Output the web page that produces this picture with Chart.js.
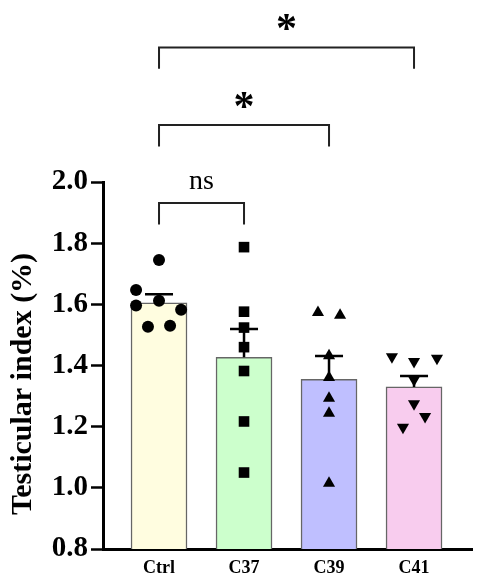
<!DOCTYPE html>
<html><head><meta charset="utf-8">
<script src="https://cdn.jsdelivr.net/npm/chart.js@4"></script>
<style>html,body{margin:0;padding:0;background:#fff;} canvas{display:block;}</style>
</head><body>
<canvas id="c" width="483" height="583"></canvas>
<script>
// ---- data ----
const categories = ['Ctrl', 'C37', 'C39', 'C41'];
const means = [1.605, 1.427, 1.355, 1.330];
const sems = [0.028, 0.092, 0.076, 0.036];
const ctrlValues = [1.745, 1.647, 1.596, 1.612, 1.582, 1.527, 1.530];
const ctrlJitter = [0, -0.27, -0.27, 0, 0.26, -0.13, 0.13];
const c37Values = [1.787, 1.576, 1.524, 1.460, 1.382, 1.217, 1.050];
const c37Jitter = [0, 0, 0, 0, 0, 0, 0];
const c39Values = [1.573, 1.564, 1.432, 1.361, 1.293, 1.244, 1.015];
const c39Jitter = [-0.13, 0.13, 0, 0, 0, 0, 0];
const c41Values = [1.429, 1.413, 1.424, 1.353, 1.275, 1.233, 1.198];
const c41Jitter = [-0.26, 0, 0.27, 0, 0, 0.13, -0.13];
const yTicks = [0.8, 1.0, 1.2, 1.4, 1.6, 1.8, 2.0];
const compFrom = [0, 0, 0];
const compTo = [1, 2, 3];
const compLabels = ['ns', '*', '*'];
const yTitle = 'Testicular index (%)';

// ---- styling ----
const barColors = ['#FFFDE0', '#CCFFCC', '#BFBFFF', '#F8CCEE'];
const SERIF = "'Liberation Serif', 'Times New Roman', serif";
const bracketTop = [1.931, 2.186, 2.440];   // bracket heights (axis units)
const bracketLeg = 0.070;

function pts(values, jitter, idx) {
  return values.map((v, i) => ({ x: idx + jitter[i], y: v }));
}

const errorBars = {
  id: 'errorBars',
  afterDatasetDraw(chart, args) {
    if (args.index !== 0) return;
    const { ctx, scales: { x, y } } = chart;
    ctx.save();
    ctx.strokeStyle = '#000';
    ctx.lineWidth = 2.5;
    means.forEach((m, i) => {
      const px = x.getPixelForValue(i);
      const y0 = y.getPixelForValue(m);
      const y1 = y.getPixelForValue(m + sems[i]);
      ctx.beginPath();
      ctx.moveTo(px, y0); ctx.lineTo(px, y1);
      ctx.moveTo(px - 14, y1); ctx.lineTo(px + 14, y1);
      ctx.stroke();
    });
    ctx.restore();
  }
};

const brackets = {
  id: 'brackets',
  afterDraw(chart) {
    const { ctx, scales: { x, y } } = chart;
    ctx.save();
    ctx.strokeStyle = '#222';
    ctx.lineWidth = 2;
    compFrom.forEach((f, k) => {
      const x0 = x.getPixelForValue(f);
      const x1 = x.getPixelForValue(compTo[k]);
      const yt = y.getPixelForValue(bracketTop[k]);
      const yb = y.getPixelForValue(bracketTop[k] - bracketLeg);
      ctx.beginPath();
      ctx.moveTo(x0, yb); ctx.lineTo(x0, yt); ctx.lineTo(x1, yt); ctx.lineTo(x1, yb);
      ctx.stroke();
      ctx.fillStyle = '#000';
      ctx.textAlign = 'center';
      ctx.textBaseline = 'alphabetic';
      const cx = (x0 + x1) / 2;
      if (compLabels[k] === 'ns') {
        ctx.font = "28px " + SERIF;
        ctx.fillText(compLabels[k], cx, yt - 14);
      } else {
        ctx.font = "bold 42px " + SERIF;
        ctx.fillText(compLabels[k], cx, yt - 5);
      }
    });
    // y-axis title
    ctx.translate(23, 384);
    ctx.rotate(-Math.PI / 2);
    ctx.font = "bold 30px " + SERIF;
    ctx.textAlign = 'center';
    ctx.textBaseline = 'middle';
    ctx.fillStyle = '#000';
    ctx.fillText(yTitle, 0, 0);
    ctx.restore();
  }
};

new Chart(document.getElementById('c'), {
  type: 'bar',
  data: {
    datasets: [
      {
        type: 'bar',
        data: categories.map((c, i) => ({ x: i, y: means[i] })),
        backgroundColor: barColors,
        borderColor: '#666',
        borderWidth: 1.5,
        barThickness: 56,
        order: 10
      },
      { type: 'scatter', data: pts(ctrlValues, ctrlJitter, 0), pointStyle: 'circle', pointRadius: 6, backgroundColor: '#000', borderColor: '#000', borderWidth: 0, order: 0 },
      { type: 'scatter', data: pts(c37Values, c37Jitter, 1), pointStyle: 'rect', pointRadius: 7.5, backgroundColor: '#000', borderColor: '#000', borderWidth: 0, order: 0 },
      { type: 'scatter', data: pts(c39Values, c39Jitter, 2), pointStyle: 'triangle', pointRadius: 7, backgroundColor: '#000', borderColor: '#000', borderWidth: 0, order: 0 },
      { type: 'scatter', data: pts(c41Values, c41Jitter, 3), pointStyle: 'triangle', pointRotation: 180, pointRadius: 7, backgroundColor: '#000', borderColor: '#000', borderWidth: 0, order: 0 }
    ]
  },
  options: {
    responsive: false,
    animation: false,
    events: [],
    layout: { padding: { top: 182, right: 11, bottom: 0, left: 0 } },
    plugins: { legend: { display: false }, tooltip: { enabled: false } },
    scales: {
      x: {
        type: 'linear',
        offset: false,
        min: -0.659,
        max: 3.682,
        afterBuildTicks: (s) => { s.ticks = categories.map((c, i) => ({ value: i })); },
        afterFit: (s) => { s.height = 34; },
        grid: { display: false, drawTicks: false },
        border: { display: true, color: '#000', width: 3 },
        ticks: {
          autoSkip: false,
          maxRotation: 0,
          padding: 9,
          color: '#000',
          font: { family: SERIF, size: 18, weight: 'bold' },
          callback: (v) => categories[v]
        }
      },
      y: {
        min: 0.8,
        max: 2.0,
        afterBuildTicks: (s) => { s.ticks = yTicks.map(v => ({ value: v })); },
        afterFit: (s) => { s.width = 103; },
        grid: { display: true, drawOnChartArea: false, drawTicks: true, tickLength: 12, tickWidth: 2.5, tickColor: '#000' },
        border: { display: true, color: '#000', width: 3 },
        ticks: {
          padding: 3,
          color: '#000',
          font: { family: SERIF, size: 29, weight: 'bold' },
          callback: (v) => Number(v).toFixed(1)
        },
        title: { display: false }
      }
    }
  },
  plugins: [errorBars, brackets]
});
</script>
</body></html>
